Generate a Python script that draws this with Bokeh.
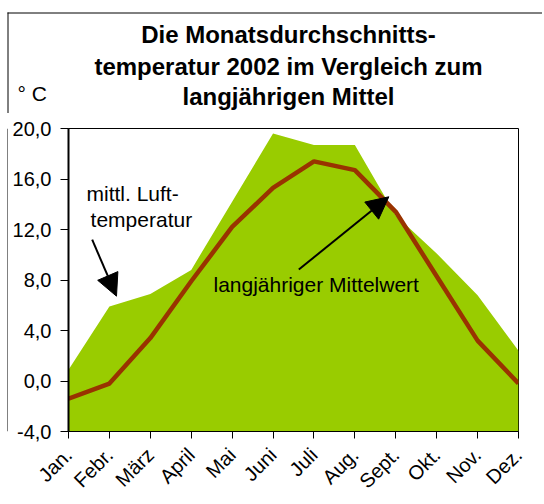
from bokeh.plotting import figure
from bokeh.layouts import column, row
from bokeh.models import Range1d, FixedTicker, Label, Arrow, NormalHead
from bokeh.core.properties import value
from bokeh.embed import file_html
from bokeh.resources import INLINE

# ---- data ----
months = ["Jan.", "Febr.", "März", "April", "Mai", "Juni", "Juli", "Aug.",
          "Sept.", "Okt.", "Nov.", "Dez."]
temp_2002 = [0.9, 5.9, 6.9, 8.8, 14.2, 19.6, 18.7, 18.7, 13.1, 10.1, 6.8, 2.4]
mittel = [-1.4, -0.2, 3.4, 7.9, 12.2, 15.3, 17.4, 16.7, 13.4, 8.3, 3.2, -0.2]
y_ticks = [-4, 0, 4, 8, 12, 16, 20]
y_tick_labels = ["-4,0", "0,0", "4,0", "8,0", "12,0", "16,0", "20,0"]
title_lines = ["Die Monatsdurchschnitts-", "temperatur 2002 im Vergleich zum",
               "langjährigen Mittel"]
unit_label = "° C"
label_luft = ["mittl. Luft-", "temperatur"]
label_mittel = "langjähriger Mittelwert"

x = list(range(len(months)))
FONT = "Liberation Sans"
GREEN = "#99CC00"
RED = "#993300"

TOTAL_W, HEAD_H, MAIN_H, STRIP_W = 542, 113, 390, 8
FRAME_TOP = 128 - HEAD_H


def bare(width, height, xr, yr):
    f = figure(width=width, height=height, output_backend="svg",
               toolbar_location=None, x_range=xr, y_range=yr,
               x_axis_location=None, y_axis_location=None, min_border=0)
    f.outline_line_color = None
    f.background_fill_color = "white"
    f.border_fill_color = "white"
    f.xgrid.visible = False
    f.ygrid.visible = False
    return f


# ---- header: title, unit, outer frame (top/left) ----
head = bare(TOTAL_W, HEAD_H, Range1d(0, TOTAL_W), Range1d(HEAD_H, 0))
head.text(x=[288] * 3, y=[33.7, 65.7, 96.4], text=title_lines,
          text_align="center", text_baseline="middle",
          text_font=value(FONT), text_font_size="24px", text_font_style="bold",
          text_color="black")
head.text(x=[17], y=[92.5], text=[unit_label], text_align="left",
          text_baseline="middle", text_font=value(FONT),
          text_font_size="21px", text_color="black")
head.line([7, TOTAL_W], [12.5, 12.5], line_color="black", line_width=1)
head.line([7.5, 7.5], [12, HEAD_H], line_color="black", line_width=1)

# ---- left strip: outer frame (left) ----
strip = bare(STRIP_W, MAIN_H, Range1d(0, STRIP_W), Range1d(0, MAIN_H))
strip.line([7.5, 7.5], [0, MAIN_H], line_color="black", line_width=1)

# ---- main chart ----
p = figure(width=TOTAL_W - STRIP_W, height=MAIN_H, output_backend="svg",
           toolbar_location=None,
           x_range=Range1d(0, len(months) - 1),
           y_range=Range1d(y_ticks[0], y_ticks[-1]),
           min_border_left=60, min_border_right=TOTAL_W - 518,
           min_border_top=FRAME_TOP, min_border_bottom=MAIN_H - FRAME_TOP - 305)
p.background_fill_color = "white"
p.border_fill_color = "white"
p.outline_line_color = "black"
p.outline_line_width = 1
p.xgrid.visible = False
p.ygrid.visible = False

p.varea(x=x, y1=[y_ticks[0]] * len(x), y2=temp_2002, fill_color=GREEN)
p.line(x, mittel, line_color=RED, line_width=4.5)

xa = p.xaxis[0]
xa.ticker = FixedTicker(ticks=x)
xa.major_label_overrides = {i: m for i, m in zip(x, months)}
xa.major_label_orientation = 0.785398
xa.major_label_text_font = FONT
xa.major_label_text_font_size = "20px"
xa.major_label_text_color = "black"
xa.major_tick_out = 7
xa.major_tick_in = 0
xa.minor_tick_out = 0
xa.minor_tick_in = 0
xa.axis_line_color = "black"
xa.major_tick_line_color = "black"
xa.major_label_standoff = 13

ya = p.yaxis[0]
ya.ticker = FixedTicker(ticks=y_ticks)
ya.major_label_overrides = {t: l for t, l in zip(y_ticks, y_tick_labels)}
ya.major_label_text_font = FONT
ya.major_label_text_font_size = "20px"
ya.major_label_text_color = "black"
ya.major_tick_out = 8
ya.major_tick_in = 0
ya.minor_tick_out = 0
ya.minor_tick_in = 0
ya.axis_line_width = 2
ya.axis_line_color = "black"
ya.major_tick_line_color = "black"
ya.major_label_standoff = 9

for txt, xx, yy in zip(label_luft, [0.44, 0.54], [14.85, 12.80]):
    p.add_layout(Label(x=xx, y=yy, text=txt, text_align="left",
                       text_baseline="middle", text_font=FONT,
                       text_font_size="21px", text_color="black"))
p.add_layout(Label(x=3.544, y=7.68, text=label_mittel, text_align="left",
                   text_baseline="middle", text_font=FONT,
                   text_font_size="21px", text_color="black"))

p.add_layout(Arrow(end=NormalHead(size=22, fill_color="black", line_color="black"),
                   x_start=0.579, y_start=11.19, x_end=1.173, y_end=6.72,
                   line_width=2, line_color="black"))
p.add_layout(Arrow(end=NormalHead(size=22, fill_color="black", line_color="black"),
                   x_start=5.63, y_start=8.83, x_end=7.83, y_end=14.59,
                   line_width=2, line_color="black"))

layout = column(head, row(strip, p, spacing=0), spacing=0)
open("out.html", "w").write(file_html(layout, INLINE))
